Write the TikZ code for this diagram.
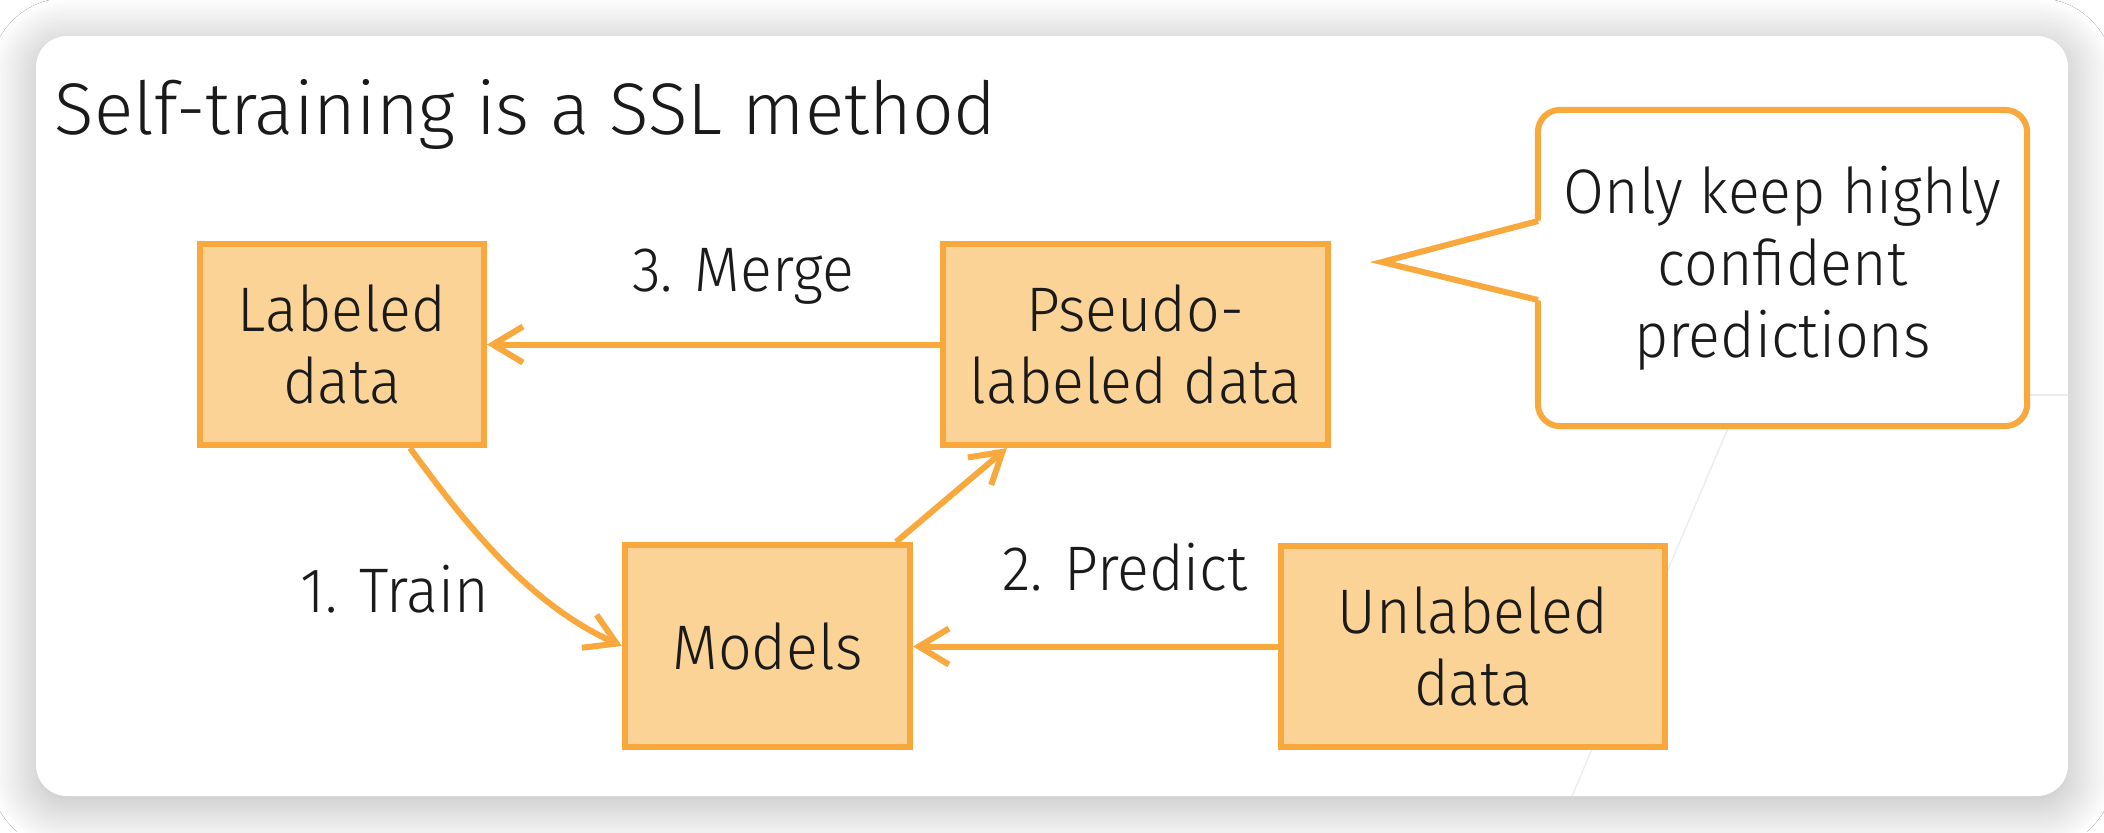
\documentclass[tikz,border=0pt]{standalone}
\usepackage{fontspec}
\setmainfont{Fira Sans Light}
\newfontfamily\bodyfont{Fira Sans Light}[FakeStretch=0.94]
\usetikzlibrary{arrows.meta,shadows.blur}
\definecolor{boxfill}{HTML}{FBD396}
\definecolor{boxline}{HTML}{F8A83C}
\definecolor{txt}{HTML}{1A1A1A}
\tikzset{
  stepbox/.style={draw=boxline, fill=boxfill, line width=0.06cm, align=center, inner sep=0pt,
    text=txt, font=\bodyfont\fontsize{17.9}{20.5}\selectfont},
  flow/.style={draw=boxline, line width=0.06cm, -{Straight Barb[length=0.3cm,width=0.36cm]}},
  lbl/.style={anchor=base, inner sep=0pt, text=txt, font=\bodyfont\fontsize{17.9}{20.5}\selectfont},
}
\begin{document}
\begin{tikzpicture}[x=0.01cm,y=-0.01cm]
\useasboundingbox (0,0) rectangle (2104,832);
\begin{scope}
\clip (0,0) rectangle (2104,832);
\fill[white] (0,0) rectangle (2104,832);
% card
\path[fill=white, rounded corners=0.31cm,
  blur shadow={shadow blur steps=30, shadow xshift=0cm, shadow yshift=-0.08cm,
  shadow blur radius=0.46cm, shadow opacity=30}] (36,36) rectangle (2068,796);
\end{scope}
% faint background lines
\draw[black!7, line width=0.4pt] (1745,388) -- (1572,796);
\draw[black!7, line width=0.4pt] (2030,395) -- (2068,395);
% title
\node[anchor=base west, inner sep=0pt, text=txt, font=\fontsize{20.8}{24}\selectfont] (title) at (54,134) {Self-training is a SSL method};
% boxes
\node[stepbox, minimum width=2.84cm, minimum height=2.01cm] (lab) at (342,344.5) {Labeled\\data};
\node[stepbox, minimum width=2.85cm, minimum height=2.02cm] (mod) at (767.5,646) {Models};
\node[stepbox, minimum width=3.85cm, minimum height=2.01cm] (pse) at (1135.5,344.5) {Pseudo-\\labeled data};
\node[stepbox, minimum width=3.84cm, minimum height=2.01cm] (unl) at (1473,646.5) {Unlabeled\\data};
% callout
\node[draw=boxline, fill=white, line width=0.06cm, rounded corners=0.22cm, minimum width=4.89cm,
  minimum height=3.16cm, align=center, inner sep=0pt, text=txt, font=\bodyfont\fontsize{17.9}{20.5}\selectfont]
  (call) at (1782.5,268) {Only keep highly\\confident\\predictions};
\coordinate (tip) at (1382,262);
\coordinate (pu) at (1538,221);
\coordinate (pl) at (1538,300);
\fill[white] (1546,219) -- (tip) -- (1546,302) -- cycle;
\draw[boxline, line width=0.06cm, line join=miter] (pu) -- (tip) -- (pl);
% connectors
\draw[flow] (pse.west) -- (lab.east);
\draw[flow] (unl.west) -- (unl.west -| mod.east);
\draw[flow] ([xshift=-0.17cm]mod.north east) -- ([xshift=0.67cm]pse.south west);
\draw[flow] ([xshift=0.68cm]lab.south) .. controls +(59,81) and +(-91,-41) .. (mod.west);
% labels
\node[lbl] (l3) at (743,291) {3. Merge};
\node[lbl] (l2) at (1125,590) {2. Predict};
\node[lbl] (l1) at (395,612) {1. Train};
\end{tikzpicture}
\end{document}
